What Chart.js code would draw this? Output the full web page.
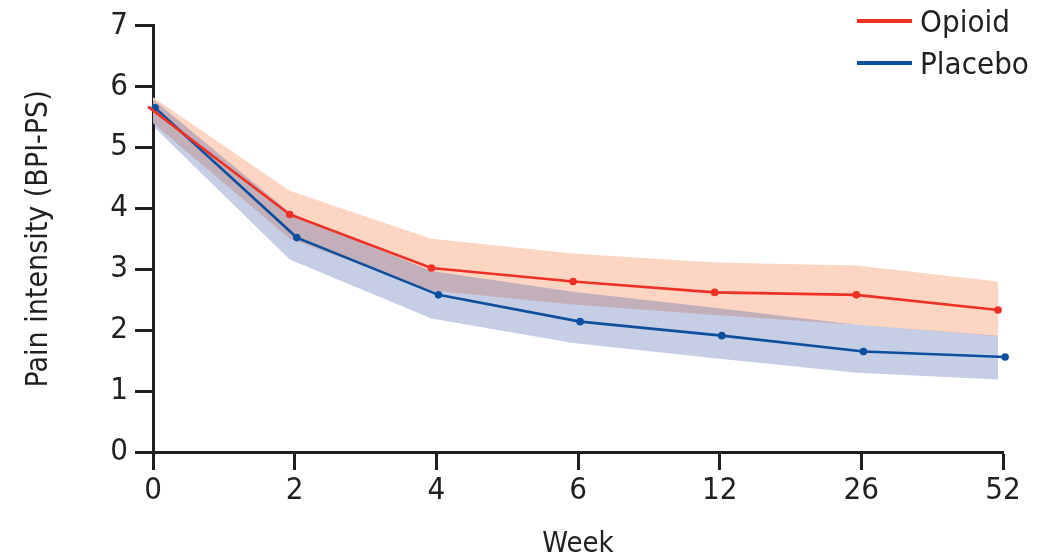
<!DOCTYPE html>
<html>
<head>
<meta charset="utf-8">
<script src="https://cdn.jsdelivr.net/npm/chart.js@4.4.1/dist/chart.umd.min.js"></script>
<style>
  html, body { margin: 0; padding: 0; background: #fff; }
  #wrap { position: relative; width: 1044px; height: 557px; }
  #legend { position: absolute; left: 857px; top: 0px; font-family: 'Liberation Sans Narrow', 'DejaVu Sans Condensed', sans-serif; font-size: 31px; color: #231f20; }
  .legend-row { display: flex; align-items: center; height: 42px; }
  .legend-swatch { width: 55px; height: 4px; margin-right: 8px; }
</style>
</head>
<body>
<div id="wrap">
  <canvas id="chart" width="1044" height="557"></canvas>
  <div id="legend"></div>
</div>
<script>
const weekLabels = ["0", "2", "4", "6", "12", "26", "52"];
const seriesNames = ["Opioid", "Placebo"];

const opioidMean = [5.67, 3.90, 3.02, 2.80, 2.62, 2.58, 2.33];
const opioidUpper = [5.88, 4.29, 3.50, 3.26, 3.11, 3.06, 2.80];
const opioidLower = [5.47, 3.50, 2.65, 2.42, 2.25, 2.09, 1.90];

const placeboMean = [5.65, 3.52, 2.58, 2.14, 1.91, 1.65, 1.56];
const placeboUpper = [5.86, 3.93, 2.97, 2.63, 2.37, 2.09, 1.91];
const placeboLower = [5.43, 3.16, 2.19, 1.79, 1.54, 1.30, 1.19];

// small horizontal dodge so the two series don't sit on top of each other
const OPIOID_SHIFT = -0.035;
const PLACEBO_SHIFT = 0.015;

const INK = "#231f20";
const RED = "#ee3124";
const BLUE = "#0c4f9e";
const RED_BAND = "#fdd5c3";
const BLUE_BAND = "rgba(40, 74, 159, 0.27)";
const FONT = "'Liberation Sans Narrow', 'DejaVu Sans Condensed', sans-serif";

function pts(values, shift) {
  return values.map((v, i) => ({ x: i + shift, y: v }));
}

function lineSet(label, values, shift, color) {
  return {
    label,
    data: pts(values, shift),
    borderColor: color,
    backgroundColor: color,
    borderWidth: 2.6,
    pointRadius: 3.8,
    pointBorderWidth: 0,
    fill: false,
    tension: 0,
    order: 0,
    clip: false,
  };
}

function edgeSet(values, shift, order, fillTarget, bg) {
  return {
    label: "",
    data: pts(values, shift),
    borderWidth: 0,
    pointRadius: 0,
    borderColor: "transparent",
    backgroundColor: bg || "transparent",
    fill: fillTarget === undefined ? false : fillTarget,
    tension: 0,
    order,
  };
}

const datasets = [
  lineSet(seriesNames[0], opioidMean, OPIOID_SHIFT, RED),
  lineSet(seriesNames[1], placeboMean, PLACEBO_SHIFT, BLUE),
  edgeSet(opioidUpper, OPIOID_SHIFT, 3),
  edgeSet(opioidLower, OPIOID_SHIFT, 3, 2, RED_BAND),
  edgeSet(placeboUpper, OPIOID_SHIFT, 2),
  edgeSet(placeboLower, OPIOID_SHIFT, 2, 4, BLUE_BAND),
];

// legend as plain html, top right
const legendHost = document.getElementById("legend");
legendHost.innerHTML = seriesNames
  .map((name, i) => {
    const c = i === 0 ? RED : BLUE;
    return `<div class="legend-row"><span class="legend-swatch" style="background:${c}"></span><span>${name}</span></div>`;
  })
  .join("");

const axisGrid = {
  display: true,
  drawOnChartArea: false,
  drawTicks: true,
  tickLength: 18,
  tickWidth: 3,
  color: INK,
};

new Chart(document.getElementById("chart"), {
  type: "line",
  data: { datasets },
  options: {
    responsive: false,
    animation: false,
    layout: { padding: { top: 3, right: 41, bottom: 0, left: 0 } },
    plugins: {
      legend: { display: false },
      tooltip: { enabled: false },
    },
    scales: {
      x: {
        type: "linear",
        min: 0,
        max: weekLabels.length - 1,
        grid: axisGrid,
        border: { display: true, width: 3, color: INK },
        ticks: {
          stepSize: 1,
          padding: 2,
          color: INK,
          font: { family: FONT, size: 31 },
          callback: (v) => weekLabels[v] ?? "",
        },
        title: {
          display: true,
          text: "Week",
          color: INK,
          font: { family: FONT, size: 29 },
          padding: { top: 0, bottom: -5 },
        },
        afterFit(scale) {
          scale.height = 105;
        },
      },
      y: {
        min: 0,
        max: 7,
        grid: axisGrid,
        border: { display: true, width: 3, color: INK },
        ticks: {
          stepSize: 1,
          padding: 7,
          color: INK,
          font: { family: FONT, size: 31 },
        },
        title: {
          display: true,
          text: "Pain intensity (BPI-PS)",
          color: INK,
          font: { family: FONT, size: 30 },
          padding: { top: 21, bottom: 0 },
        },
        afterFit(scale) {
          scale.width = 153;
        },
      },
    },
  },
});
</script>
</body>
</html>
